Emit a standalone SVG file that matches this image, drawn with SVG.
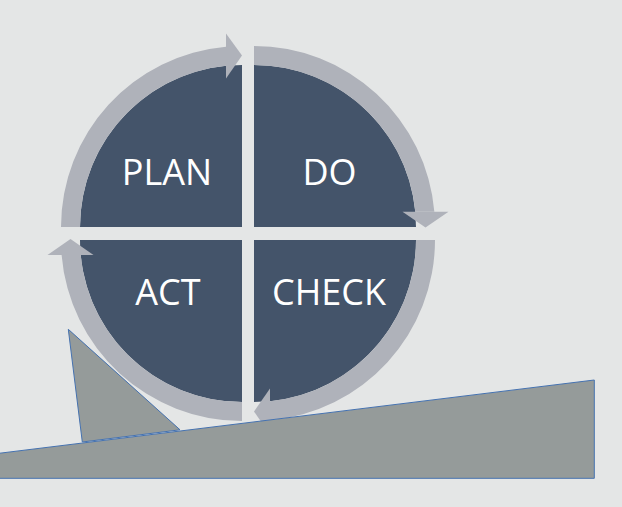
<svg xmlns="http://www.w3.org/2000/svg" width="622" height="507" viewBox="0 0 622 507">
<style>
.q{fill:#44546a}
.ring{fill:#afb2ba}
.lbl{font-family:"Open Sans","Noto Sans",sans-serif;font-size:36px;fill:#ffffff;text-anchor:middle}
.ground{fill:#959b9a;stroke:#4572b0;stroke-width:1}
</style>
<rect width="622" height="507" fill="#e4e6e6"/>
<g id="node-plan">
<path class="q" d="M242 227 L80 227 A162 162 0 0 1 242 65 Z"/>
<text class="lbl" x="167" y="185">PLAN</text>
</g>
<g id="node-do">
<path class="q" d="M254 227 L254 65 A162 162 0 0 1 416 227 Z"/>
<text class="lbl" x="329.5" y="185">DO</text>
</g>
<g id="node-check">
<path class="q" d="M254 240 L416 240 A162 162 0 0 1 254 402 Z"/>
<text class="lbl" x="329" y="305">CHECK</text>
</g>
<g id="node-act">
<path class="q" d="M242 240 L242 402 A162 162 0 0 1 80 240 Z"/>
<text class="lbl" x="168" y="305">ACT</text>
</g>
<g id="connectors">
<path class="ring" d="M61 227 A181 181 0 0 1 226 46.7 L226 65.8 A162 162 0 0 0 80 227 Z"/>
<polygon class="ring" points="226,33.5 242,55.5 226,78.5"/>
<path class="ring" d="M254 46 A181 181 0 0 1 434.35 211.7 L415.3 211.7 A162 162 0 0 0 254 65 Z"/>
<polygon class="ring" points="402.5,211.7 448.5,211.7 425.5,227.5"/>
<path class="ring" d="M435 240 A181 181 0 0 1 270 420.3 L270 401.2 A162 162 0 0 0 416 240 Z"/>
<polygon class="ring" points="270,388.5 270,434.5 254,411.5"/>
<path class="ring" d="M242 421 A181 181 0 0 1 61.6 255 L80.7 255 A162 162 0 0 0 242 402 Z"/>
<polygon class="ring" points="47.5,255 93.5,255 70.5,239"/>
</g>
<g id="ground">
<polygon class="ground" points="68.3,329.3 180,429.8 82.3,442"/>
<polygon class="ground" points="-1,453.3 594.3,380 594.3,478.3 -1,478.3"/>
</g>
</svg>
